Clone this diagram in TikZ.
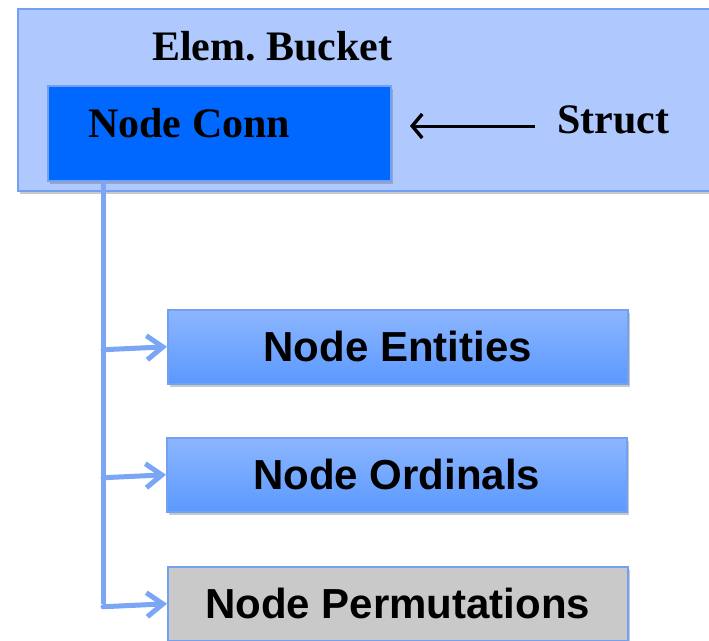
\documentclass[tikz,border=0pt]{standalone}
\usepackage{fontspec}
\setmainfont{Liberation Serif}
\newfontfamily\sansb{Liberation Sans}
\usetikzlibrary{arrows.meta,shadows}
\definecolor{bucketfill}{HTML}{AFC9FF}
\definecolor{bucketdraw}{HTML}{72A0F2}
\definecolor{connfill}{HTML}{0068FF}
\definecolor{linkblue}{HTML}{7AA6F5}
\definecolor{topblue}{HTML}{8DB6FF}
\definecolor{botblue}{HTML}{5B99FF}
\definecolor{grayfill}{HTML}{C9C9C9}
\tikzset{
  bigtext/.style={font=\fontsize{42}{48}\selectfont\bfseries},
  boxshadow/.style={drop shadow={opacity=0.35,shadow xshift=2pt,shadow yshift=-3pt,fill=black!60}},
  listbox/.style={draw=bucketdraw,line width=1.5pt,minimum width=460pt,minimum height=74pt,
     anchor=north west,inner sep=0pt,font=\sansb\fontsize{42}{48}\selectfont\bfseries,boxshadow},
  bluebox/.style={listbox,top color=topblue,bottom color=botblue},
  graybox/.style={listbox,fill=grayfill},
  linkarrow/.style={draw=linkblue,line width=5pt,line cap=round,
     -{Straight Barb[length=16pt,width=24pt,line width=5pt]}},
}
\begin{document}
\begin{tikzpicture}[x=1pt,y=-1pt]
\clip (0,0) rectangle (709,640);
\fill[white] (0,0) rectangle (709,640);
% bucket
\node[draw=bucketdraw,fill=bucketfill,line width=1.5pt,minimum width=710pt,minimum height=182pt,
  anchor=north west,inner sep=0pt,boxshadow] (bucket) at (17,8) {};
\node[bigtext,anchor=base west,inner sep=0pt] (title) at (152,60) {Elem.\ Bucket};
\node[draw=bucketdraw,fill=connfill,line width=1.5pt,minimum width=343pt,minimum height=95pt,
  anchor=north west,inner sep=0pt,boxshadow] (conn) at (47,85) {};
\node[bigtext,anchor=base west,inner sep=0pt] (conntext) at (88,137) {Node Conn};
\node[bigtext,anchor=base west,inner sep=0pt] (struct) at (557,133) {Struct};
\coordinate (tip) at (410,126);
\draw[line width=3pt,-{Straight Barb[length=10pt,width=24pt,line width=3.4pt]}] (struct.west |- tip) ++(-22,0) -- (tip);
% list boxes
\node[bluebox] (ent) at (167,309) {Node Entities};
\node[bluebox] (ord) at (166,437) {Node Ordinals};
\node[graybox] (perm) at (167,566) {Node Permutations};
% connectors
\coordinate (trunk) at (103,180);
\draw[draw=linkblue,line width=5pt] (trunk) -- (trunk |- perm.west);
\draw[linkarrow] ([yshift=-3pt]trunk |- ent.west) -- (ent.west);
\draw[linkarrow] ([yshift=-3pt]trunk |- ord.west) -- (ord.west);
\draw[linkarrow] ([yshift=-3pt]trunk |- perm.west) -- (perm.west);
\end{tikzpicture}
\end{document}
